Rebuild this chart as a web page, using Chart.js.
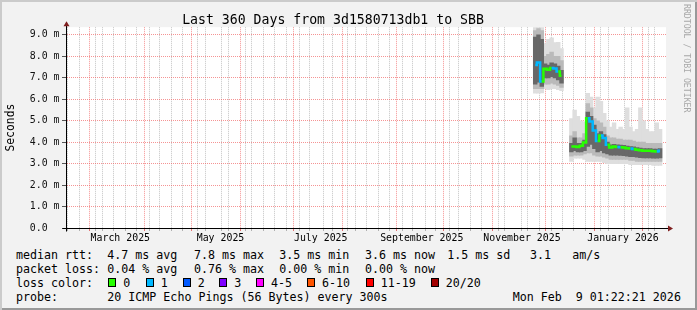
<!DOCTYPE html>
<html>
<head>
<meta charset="utf-8">
<script src="https://cdn.jsdelivr.net/npm/chart.js@4.4.1/dist/chart.umd.min.js"></script>
<style>
  html, body { margin: 0; padding: 0; background: #f2f2f2; }
  #wrap {
    position: relative; width: 697px; height: 310px; overflow: hidden;
    background: #f2f2f2;
    box-shadow: inset 2px 2px 0 #cbcbcb, inset -2px -2px 0 #999;
    font-family: "DejaVu Sans Mono", monospace;
  }
  #box { position: absolute; left: 0; top: 0; width: 697px; height: 245px; }
  .t { position: absolute; font-size: 11.65px; line-height: 14px; white-space: pre; color: #000; }
  .sq { position: absolute; width: 8px; height: 9px; box-sizing: border-box; border: 1px solid #000; top: 278px; }
  #mark {
    position: absolute; left: 682px; top: 4px; writing-mode: vertical-rl;
    font-size: 8.2px; line-height: 9px; color: #a8a8a8; white-space: pre;
  }
</style>
</head>
<body>
<div id="wrap">
  <div id="box"><canvas id="chart"></canvas></div>
  <div id="mark">RRDTOOL / TOBI OETIKER</div>

  <!-- legend rows -->
  <span class="t" style="left:16px;top:247.7px">median rtt:</span>
  <span class="t" style="left:107.3px;top:247.7px">4.7 ms avg</span>
  <span class="t" style="left:194px;top:247.7px">7.8 ms max</span>
  <span class="t" style="left:279.3px;top:247.7px">3.5 ms min</span>
  <span class="t" style="left:365px;top:247.7px">3.6 ms now</span>
  <span class="t" style="left:447.3px;top:247.7px">1.5 ms sd</span>
  <span class="t" style="left:530px;top:247.7px">3.1</span>
  <span class="t" style="left:572.3px;top:247.7px">am/s</span>

  <span class="t" style="left:16px;top:261.7px">packet loss:</span>
  <span class="t" style="left:107.3px;top:261.7px">0.04 % avg</span>
  <span class="t" style="left:194px;top:261.7px">0.76 % max</span>
  <span class="t" style="left:279.3px;top:261.7px">0.00 % min</span>
  <span class="t" style="left:365px;top:261.7px">0.00 % now</span>

  <span class="t" style="left:16px;top:275.7px">loss color:</span>
  <div id="lossRow"></div>

  <span class="t" style="left:16px;top:289.7px">probe:</span>
  <span class="t" style="left:107.3px;top:289.7px">20 ICMP Echo Pings (56 Bytes) every 300s</span>
  <span class="t" style="left:512.7px;top:289.7px">Mon Feb  9 01:22:21 2026</span>
</div>

<script>
// -------------------- DATA --------------------
// sample position in days from the start of the 360 day window
const sampleDays = [283, 285, 287, 289, 291, 293, 295, 297, 299, 302,
  305, 307, 309, 311, 313, 315, 317, 319, 321, 323, 325, 327, 329, 331,
  333, 335, 337, 339, 341, 343, 345, 347, 349, 351, 353, 355, 357, 359];

// median rtt (ms)
const medianMs = [7.60, 7.71, 6.83, 7.42, 7.38, 7.46, 7.43, 7.30, 7.10, null,
  3.80, 3.80, 3.78, 3.83, 3.99, 5.12, 4.96, 4.55, 4.05, 4.31, 4.19, 3.88, 3.75, 3.80,
  3.78, 3.76, 3.75, 3.72, 3.70, 3.68, 3.65, 3.62, 3.60, 3.60, 3.60, 3.58, 3.57, 3.60];

// lost pings out of 20
const lossPings = [1, 1, 0, 0, 0, 1, 1, 0, 0, null,
  0, 0, 0, 0, 0, 1, 1, 1, 0, 1, 1, 0, 0, 0,
  1, 0, 0, 0, 1, 0, 0, 0, 0, 0, 0, 0, 1, 0];

// smoke: full spread of the pings
const minMs = [6.28, 6.28, 6.30, 6.50, 6.45, 6.50, 6.50, 6.45, 6.40, null,
  3.10, 3.25, 3.25, 3.25, 3.20, 3.10, 3.10, 3.10, 3.10, 3.10, 3.05, 3.00, 3.00, 3.00,
  3.00, 3.00, 3.00, 3.00, 2.95, 2.95, 2.95, 2.95, 2.95, 2.95, 2.95, 2.92, 2.92, 2.92];
const maxMs = [9.36, 9.36, 9.36, 8.60, 8.80, 8.86, 8.64, 8.66, 8.36, null,
  5.10, 5.50, 5.20, 5.00, 4.95, 6.28, 6.10, 5.60, 6.10, 5.90, 5.35, 5.00, 4.70, 4.90,
  4.60, 4.70, 4.60, 5.60, 4.70, 4.50, 4.60, 5.60, 5.00, 4.60, 4.50, 4.50, 4.90, 4.60];

// smoke: middle band
const loMidMs = [6.50, 6.50, 6.50, 6.70, 6.70, 6.75, 6.70, 6.65, 6.55, null,
  3.35, 3.40, 3.40, 3.40, 3.45, 3.50, 3.50, 3.40, 3.35, 3.35, 3.30, 3.25, 3.20, 3.20,
  3.20, 3.20, 3.20, 3.20, 3.15, 3.15, 3.10, 3.10, 3.10, 3.10, 3.10, 3.10, 3.10, 3.10];
const hiMidMs = [9.20, 9.30, 9.20, 8.00, 8.10, 8.20, 8.00, 8.00, 7.80, null,
  4.30, 4.50, 4.20, 4.20, 4.40, 5.80, 5.60, 5.10, 5.00, 4.90, 4.70, 4.30, 4.20, 4.20,
  4.15, 4.15, 4.10, 4.10, 4.10, 4.05, 4.00, 4.00, 4.00, 3.95, 3.95, 3.95, 3.95, 3.95];

// smoke: dense core round the median
const loCoreMs = [6.70, 6.80, 6.60, 7.00, 7.00, 7.05, 7.00, 6.90, 6.75, null,
  3.55, 3.60, 3.55, 3.55, 3.60, 3.80, 3.90, 3.70, 3.55, 3.60, 3.50, 3.45, 3.40, 3.40,
  3.40, 3.38, 3.37, 3.35, 3.33, 3.32, 3.30, 3.28, 3.27, 3.27, 3.27, 3.25, 3.25, 3.27];
const hiCoreMs = [8.90, 9.00, 8.80, 7.65, 7.60, 7.70, 7.65, 7.55, 7.35, null,
  3.95, 4.20, 3.95, 3.95, 4.10, 5.40, 5.20, 4.80, 4.40, 4.50, 4.35, 4.00, 3.88, 3.90,
  3.88, 3.86, 3.85, 3.82, 3.80, 3.78, 3.75, 3.72, 3.70, 3.70, 3.70, 3.68, 3.68, 3.70];

// y axis ticks (ms), labels only on whole numbers
const yTickValues = [0, 0.5, 1, 1.5, 2, 2.5, 3, 3.5, 4, 4.5, 5, 5.5, 6, 6.5, 7, 7.5, 8, 8.5, 9];

// x axis labels
const monthLabels = ["March 2025", "May 2025", "July 2025", "September 2025", "November 2025", "January 2026"];

// loss legend
const lossLabels = ["0", "1", "2", "3", "4-5", "6-10", "11-19", "20/20"];
const lossColors = ["#26ff00", "#00b8ff", "#0059ff", "#7e00ff", "#ff00ff", "#ff5500", "#ff0000", "#a10000"];

// -------------------- TIME AXIS --------------------
const DAY = 86400000;
const END = Date.UTC(2026, 1, 9, 1, 22, 21);
const START = END - 360 * DAY;
const dayOf = (y, m, d) => (Date.UTC(y, m, d) - START) / DAY;

let xTicks = [];
// month lines
for (let y = 2025, m = 2; y * 12 + m <= 2026 * 12 + 1; m++) {
  if (m > 11) { m = 0; y++; }
  xTicks.push({ value: dayOf(y, m, 1), kind: "month", label: "" });
  // label in the middle of every second month
  let name = new Date(Date.UTC(y, m, 1)).toLocaleString("en-US", { month: "long", timeZone: "UTC" }) + " " + y;
  if (monthLabels.includes(name)) {
    let mid = (dayOf(y, m, 1) + dayOf(y, m + 1, 1)) / 2;
    xTicks.push({ value: mid, kind: "label", label: name });
  }
}
// week lines on sundays
for (let d = dayOf(2025, 1, 16); d < 360; d += 7) {
  xTicks.push({ value: d, kind: "week", label: "" });
}
xTicks = xTicks.filter(t => t.value > 0 && t.value < 360).sort((a, b) => a.value - b.value);

// -------------------- LEGEND SQUARES --------------------
const squareX = [108.3, 145.7, 182.7, 219.3, 256, 307, 365.7, 430.7];
const lossRow = document.getElementById("lossRow");
lossLabels.forEach((lab, i) => {
  let sq = document.createElement("div");
  sq.className = "sq";
  sq.style.left = squareX[i] + "px";
  sq.style.background = lossColors[i];
  lossRow.appendChild(sq);
  let tx = document.createElement("span");
  tx.className = "t";
  tx.style.left = (squareX[i] + 15) + "px";
  tx.style.top = "275.7px";
  tx.innerText = lab;
  lossRow.appendChild(tx);
});

// -------------------- CHART --------------------
const bandPoints = (lo, hi) => sampleDays
  .map((d, i) => ({ x: d, y: [lo[i], hi[i]] }))
  .filter(p => p.y[0] != null);

// each sample covers 2 days = 3.33 px; a little overlap hides seams
const bandSet = (lo, hi, color, order) => ({
  type: "bar",
  data: bandPoints(lo, hi),
  backgroundColor: color,
  borderWidth: 0,
  grouped: false,
  barThickness: 3.8,
  order: order
});

// white canvas + rrdtool style arrows
const rrdFrame = {
  id: "rrdFrame",
  beforeDraw(chart) {
    const a = chart.chartArea, c = chart.ctx;
    c.save();
    c.fillStyle = "#fff";
    c.fillRect(a.left, a.top, a.right - a.left, a.bottom - a.top);
    c.restore();
  },
  afterDraw(chart) {
    const a = chart.chartArea, c = chart.ctx;
    const lx = Math.round(a.left) + 0.5, by = Math.round(a.bottom) + 0.5;
    c.save();
    c.strokeStyle = "#000";
    c.lineWidth = 1;
    c.beginPath();
    c.moveTo(lx, by + 3); c.lineTo(lx, a.top - 2);
    c.moveTo(lx - 4, by); c.lineTo(a.right + 3, by);
    c.stroke();
    c.fillStyle = "#7f1f1f";
    c.beginPath();
    c.moveTo(lx, a.top - 6); c.lineTo(lx - 3, a.top - 1); c.lineTo(lx + 3, a.top - 1);
    c.closePath(); c.fill();
    c.beginPath();
    c.moveTo(a.right + 7, by); c.lineTo(a.right + 2, by - 3); c.lineTo(a.right + 2, by + 3);
    c.closePath(); c.fill();
    c.restore();
  }
};

Chart.defaults.color = "#000";
Chart.defaults.font.family = "'DejaVu Sans Mono', monospace";

new Chart(document.getElementById("chart"), {
  data: {
    datasets: [
      {
        type: "line",
        data: sampleDays.map((d, i) => ({ x: d, y: medianMs[i] })),
        borderColor: lossColors[0],
        borderWidth: 2.5,
        pointRadius: 0,
        stepped: "middle",
        spanGaps: false,
        segment: { borderColor: c => lossColors[lossPings[c.p0DataIndex]] || lossColors[0] },
        order: 0
      },
      bandSet(loCoreMs, hiCoreMs, "#686868", 1),
      bandSet(loMidMs, hiMidMs, "#bababa", 2),
      bandSet(minMs, maxMs, "#dedede", 3)
    ]
  },
  options: {
    responsive: true,
    maintainAspectRatio: false,
    animation: false,
    devicePixelRatio: 1,
    layout: { padding: { left: 0, right: 31, top: 0, bottom: 0 } },
    plugins: {
      legend: { display: false },
      tooltip: { enabled: false },
      title: {
        display: true,
        text: "Last 360 Days from 3d1580713db1 to SBB",
        font: { size: 13.2, lineHeight: 1, weight: "normal" },
        padding: { top: 14, bottom: 0 },
        color: "#000"
      }
    },
    scales: {
      x: {
        type: "linear",
        min: 0,
        max: 360,
        afterBuildTicks: s => { s.ticks = xTicks.map(t => ({ value: t.value })); },
        afterFit: s => { s.height = 17; },
        ticks: {
          autoSkip: false, maxRotation: 0, minRotation: 0, padding: 1.5,
          font: { size: 9.9 },
          callback: (v, i) => xTicks[i] ? xTicks[i].label : ""
        },
        grid: {
          tickLength: 3,
          color: c => {
            let t = xTicks[c.index];
            if (!t || t.kind === "label") return "rgba(0,0,0,0)";
            return t.kind === "month" ? "rgba(240,90,90,0.65)" : "rgba(150,150,150,0.55)";
          },
          tickColor: c => {
            let t = xTicks[c.index];
            if (!t || t.kind === "label") return "rgba(0,0,0,0)";
            return t.kind === "month" ? "rgba(220,60,60,0.7)" : "rgba(150,150,150,0.7)";
          }
        },
        border: { display: true, color: "#000", width: 1, dash: [1, 1] }
      },
      y: {
        min: 0,
        max: 9.36,
        afterBuildTicks: s => { s.ticks = yTickValues.map(v => ({ value: v })); },
        afterFit: s => { s.width = 66; },
        title: {
          display: true,
          text: "Seconds",
          font: { size: 11.4 },
          padding: { top: 4, bottom: 0 },
          color: "#000"
        },
        ticks: {
          padding: 2.5,
          font: { size: 9.9 },
          color: "#111",
          callback: v => {
            if (v % 1 !== 0) return "";
            return v === 0 ? "0.0  " : v.toFixed(1) + " m";
          }
        },
        grid: {
          tickLength: 4,
          color: c => (c.tick && c.tick.value % 1 === 0) ? "rgba(240,90,90,0.65)" : "rgba(150,150,150,0.55)",
          tickColor: c => (c.tick && c.tick.value % 1 === 0) ? "#555" : "#999"
        },
        border: { display: true, color: "#000", width: 1, dash: [1, 1] }
      }
    }
  },
  plugins: [rrdFrame]
});
</script>
</body>
</html>
